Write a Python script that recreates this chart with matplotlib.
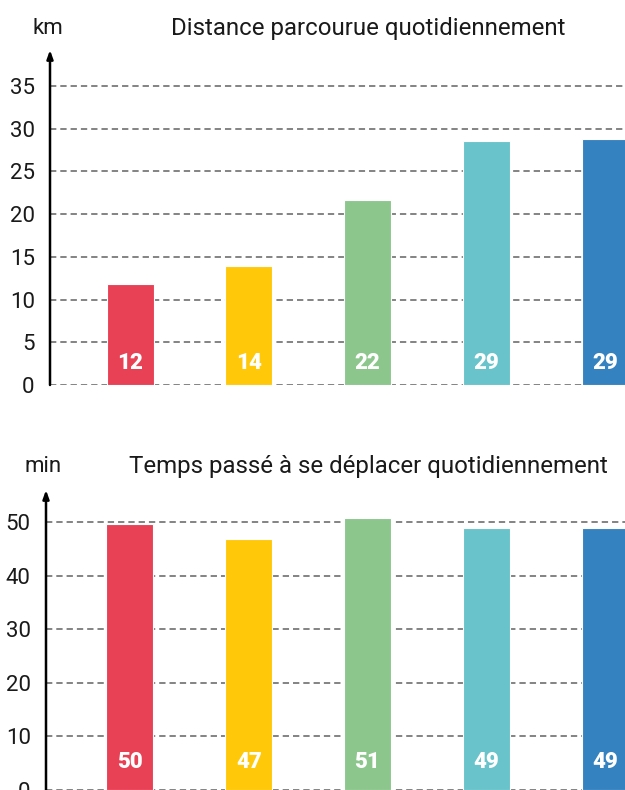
#!/usr/bin/env python3
import matplotlib
matplotlib.use("Agg")
import matplotlib.pyplot as plt

plt.rcParams['font.family'] = ['Roboto', 'DejaVu Sans']

# data (bar heights; labels are rounded)
categories = ['A', 'B', 'C', 'D', 'E']
distance_km = [11.8, 13.9, 21.7, 28.6, 28.8]
time_min = [49.6, 46.8, 50.7, 48.9, 48.9]
distance_ticks = [0, 5, 10, 15, 20, 25, 30, 35]
time_ticks = [0, 10, 20, 30, 40, 50]
colors = ['#E84054', '#FFC90A', '#8CC68C', '#68C3CA', '#3482C0']

W, H = 625, 790
fig = plt.figure(figsize=(W / 100, H / 100), dpi=100)


def draw_panel(rect, values, ticks, ymax, xleft, label_y, unit, unit_x, unit_y, title, title_y):
    ax = fig.add_axes(rect)
    x = range(len(values))
    for t in ticks:
        ax.axhline(t, color='#7a7a7a', lw=1.3, ls=(0, (3.5, 2.2)), zorder=1)
    ax.bar(x, values, width=0.396, color=colors, edgecolor='white', linewidth=0.8, zorder=2)
    for xi, v in zip(x, values):
        ax.text(xi, label_y, f"{round(v)}", ha='center', va='center', color='white',
                fontsize=16, fontweight='heavy', zorder=3)
    ax.set_xlim(xleft, 4.168)
    ax.set_ylim(0, ymax)
    ax.set_yticks(ticks)
    ax.set_xticks([])
    ax.tick_params(axis='y', length=0, pad=11, labelsize=16, labelcolor='#1a1a1a')
    for s in ax.spines.values():
        s.set_visible(False)
    ax.annotate('', xy=(0, 1), xytext=(0, 0), xycoords='axes fraction',
                arrowprops=dict(arrowstyle='-|>,head_length=0.5,head_width=0.18',
                                lw=1.8, color='black', shrinkA=0, shrinkB=0))
    fig.text(unit_x / W, 1 - unit_y / H, unit, ha='center', va='center', fontsize=16, color='#1a1a1a')
    fig.text(368 / W, 1 - title_y / H, title, ha='center', va='center', fontsize=17.3, color='#1a1a1a')
    return ax


# top chart: distance
draw_panel([50 / W, (H - 385) / H, 1 - 50 / W, 335 / H], distance_km, distance_ticks,
           39.2, -0.674, 2.6, 'km', 48, 28, 'Distance parcourue quotidiennement', 28)

# bottom chart: time
draw_panel([46 / W, 0, 1 - 46 / W, 300 / H], time_min, time_ticks,
           56.0, -0.707, 5.2, 'min', 43, 466, 'Temps passé à se déplacer quotidiennement', 466)

fig.savefig('out.png', dpi=100)
